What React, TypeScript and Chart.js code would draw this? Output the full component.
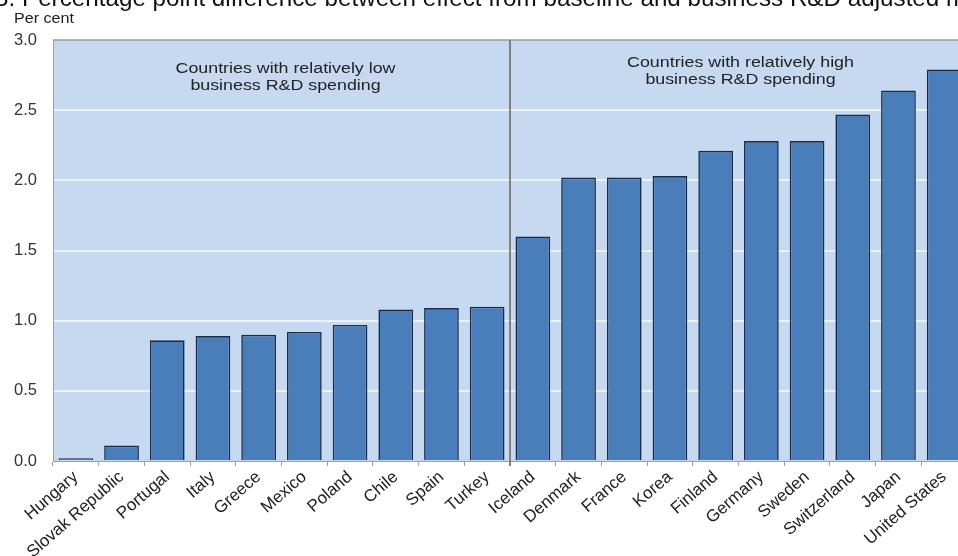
import React, { useEffect, useRef } from "react";
import { Chart, registerables } from "chart.js";

Chart.register(...registerables);

const categories = [
  "Hungary", "Slovak Republic", "Portugal", "Italy", "Greece", "Mexico", "Poland", "Chile", "Spain", "Turkey",
  "Iceland", "Denmark", "France", "Korea", "Finland", "Germany", "Sweden", "Switzerland", "Japan", "United States",
];
const values = [
  0.02, 0.11, 0.86, 0.89, 0.90, 0.92, 0.97, 1.08, 1.09, 1.10,
  1.60, 2.02, 2.02, 2.03, 2.21, 2.28, 2.28, 2.47, 2.64, 2.79,
];
const yTickValues = [0, 0.5, 1.0, 1.5, 2.0, 2.5, 3.0];
const titlePrefix = "B. ";
const titleText = "Percentage point difference between effect from baseline and business R&D adjusted model";
const titleFitPart = "Percentage point difference between effect from baseline and business R&D adjusted";
const unitLabel = "Per cent";
const lowGroupLabel = ["Countries with relatively low", "business R&D spending"];
const highGroupLabel = ["Countries with relatively high", "business R&D spending"];
const groupSplitIndex = 10;

const FONT = "Arial, 'Liberation Sans', sans-serif";
const STRETCH = 1.15;

function stretchedText(ctx: any, text: string, x: number, y: number) {
  ctx.save();
  ctx.translate(x, y);
  ctx.scale(STRETCH, 1);
  ctx.fillText(text, 0, 0);
  ctx.restore();
}

const decorPlugin = {
  id: "decor",
  beforeDraw(chart: any) {
    const { ctx, chartArea } = chart;
    ctx.save();
    ctx.fillStyle = "#c6d9f0";
    ctx.fillRect(chartArea.left, chartArea.top, chartArea.right - chartArea.left, chartArea.bottom - chartArea.top);
    ctx.restore();
  },
  afterDatasetsDraw(chart: any) {
    const { ctx, chartArea, scales } = chart;
    ctx.save();
    ctx.strokeStyle = "#9a9a9a";
    ctx.lineWidth = 1.5;
    ctx.beginPath();
    ctx.moveTo(chartArea.left, chartArea.top);
    ctx.lineTo(chartArea.right, chartArea.top);
    ctx.stroke();
    const xDiv = scales.x.getPixelForValue(groupSplitIndex - 0.5);
    ctx.strokeStyle = "#808080";
    ctx.lineWidth = 2;
    ctx.beginPath();
    ctx.moveTo(xDiv, chartArea.top);
    ctx.lineTo(xDiv, chartArea.bottom + 5);
    ctx.stroke();
    ctx.fillStyle = "#222";
    ctx.font = `15.5px ${FONT}`;
    ctx.textAlign = "center";
    ctx.textBaseline = "middle";
    const lowX = (chartArea.left + xDiv) / 2 + 4;
    const highX = (xDiv + chartArea.right) / 2 + 2;
    lowGroupLabel.forEach((t, i) => stretchedText(ctx, t, lowX, chartArea.top + 29 + i * 17));
    highGroupLabel.forEach((t, i) => stretchedText(ctx, t, highX, chartArea.top + 23 + i * 17));
    ctx.restore();
  },
  afterDraw(chart: any) {
    const { ctx } = chart;
    ctx.save();
    ctx.fillStyle = "#111";
    ctx.textBaseline = "alphabetic";
    ctx.textAlign = "left";
    ctx.font = `20px ${FONT}`;
    const w20 = ctx.measureText(titleFitPart).width;
    const size = (20 * 918) / w20;
    ctx.font = `${size}px ${FONT}`;
    const pre = ctx.measureText(titlePrefix).width;
    ctx.fillText(titlePrefix + titleText, 22 - pre, 6);
    ctx.font = `14px ${FONT}`;
    ctx.fillStyle = "#222";
    stretchedText(ctx, unitLabel, 14, 23);
    ctx.restore();
  },
};

export default function App() {
  const ref = useRef<HTMLCanvasElement | null>(null);

  useEffect(() => {
    if (!ref.current) return;
    const chart = new Chart(ref.current, {
      type: "bar",
      data: {
        labels: categories,
        datasets: [
          {
            data: values,
            backgroundColor: "#4a7ebb",
            borderColor: "#1c2c48",
            borderWidth: 1.6,
            categoryPercentage: 1,
            barPercentage: 0.76,
          },
        ],
      },
      options: {
        responsive: false,
        animation: false,
        devicePixelRatio: 1,
        layout: { padding: { top: 40, right: 3, left: 0, bottom: 0 } },
        plugins: {
          legend: { display: false },
          tooltip: { enabled: false },
          title: { display: false },
        },
        scales: {
          x: {
            grid: {
              display: true,
              drawOnChartArea: false,
              drawTicks: true,
              tickLength: 5,
              color: "#9a9a9a",
              offset: true,
            },
            border: { display: true, color: "#a0a0a0", width: 1 },
            ticks: {
              minRotation: 41,
              maxRotation: 41,
              autoSkip: false,
              padding: 1,
              color: "#222",
              font: { family: FONT, size: 17 },
            },
            afterFit(scale: any) {
              scale.height = 95;
            },
          },
          y: {
            min: 0,
            max: 3,
            afterBuildTicks(scale: any) {
              scale.ticks = yTickValues.map((v) => ({ value: v }));
            },
            ticks: {
              padding: 16,
              color: "#333",
              font: { family: FONT, size: 16.5 },
              callback: (v: any) => Number(v).toFixed(1),
            },
            grid: {
              color: (c: any) => (c.tick && c.tick.value > 0 && c.tick.value < 3 ? "rgba(240,246,253,0.85)" : "rgba(0,0,0,0)"),
              lineWidth: 2,
              drawTicks: false,
            },
            border: { display: true, color: "#a0a0a0", width: 1 },
            afterFit(scale: any) {
              scale.width = 53;
            },
          },
        },
      },
      plugins: [decorPlugin],
    });
    return () => chart.destroy();
  }, []);

  return (
    <div
      style={{
        position: "fixed",
        left: 0,
        top: 0,
        width: 958,
        height: 556,
        overflow: "hidden",
        background: "#fff",
      }}
    >
      <canvas ref={ref} width={970} height={556} style={{ width: 970, height: 556, display: "block" }} />
    </div>
  );
}
